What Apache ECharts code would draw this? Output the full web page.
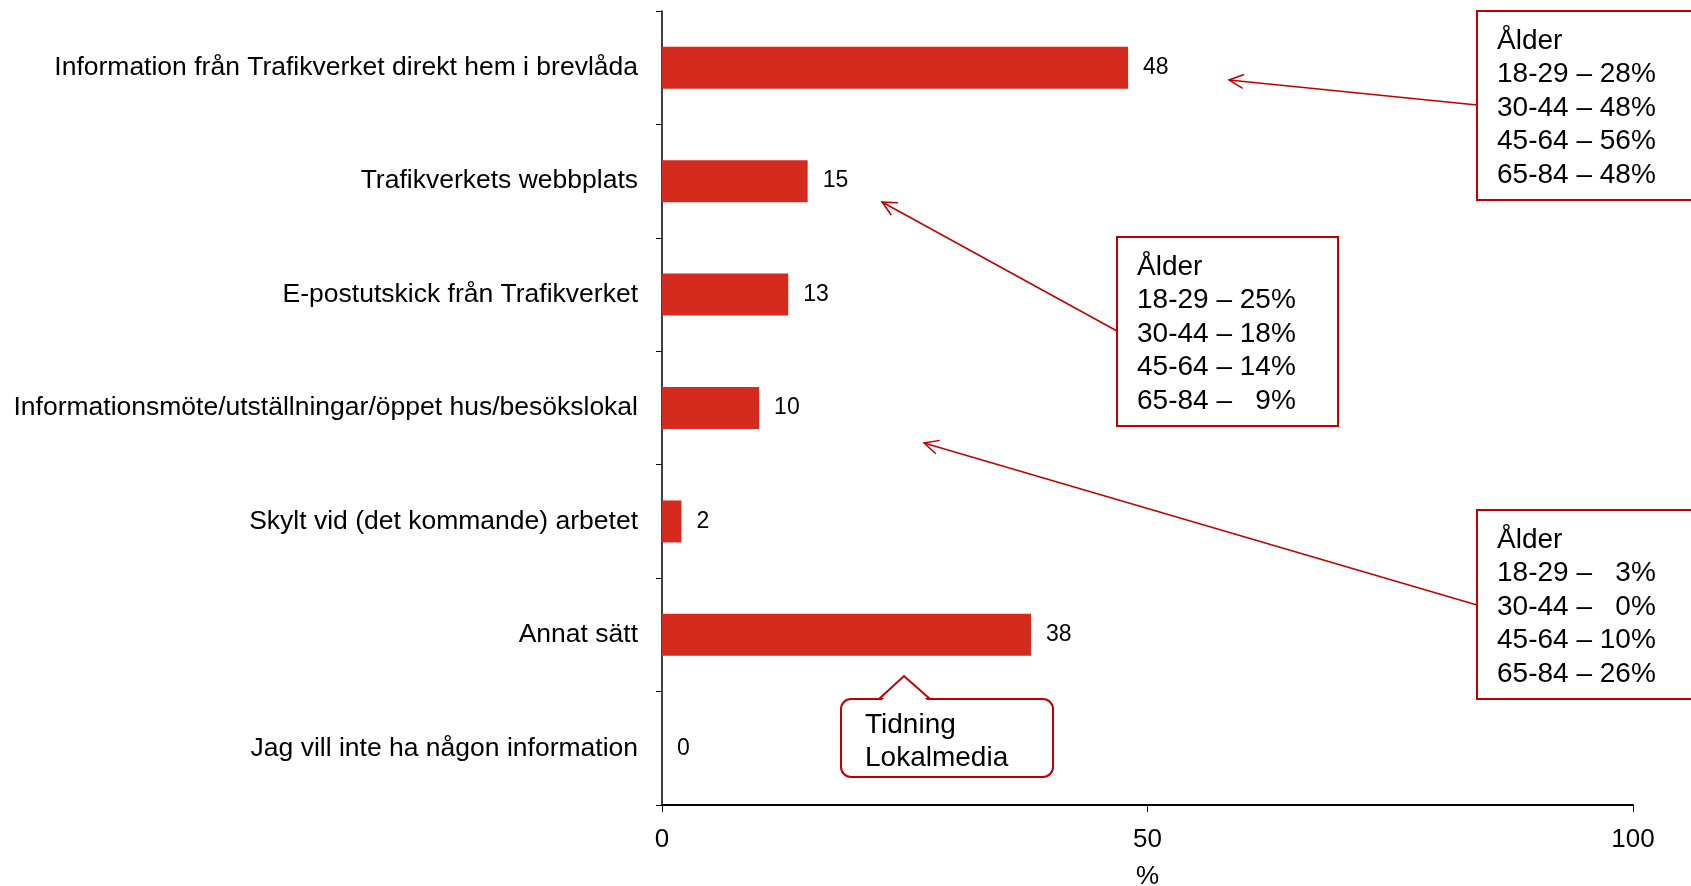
<!DOCTYPE html>
<html>
<head>
<meta charset="utf-8">
<title>Informationskanaler</title>
<script src="https://cdn.jsdelivr.net/npm/echarts@6/dist/echarts.min.js"></script>
<style>
html, body { margin: 0; padding: 0; background: #fff; }
#main { width: 1691px; height: 886px; }
</style>
</head>
<body>
<div id="main"></div>
<script>
// kategorier och värden (%)
var categories = [
    'Information från Trafikverket direkt hem i brevlåda',
    'Trafikverkets webbplats',
    'E-postutskick från Trafikverket',
    'Informationsmöte/utställningar/öppet hus/besökslokal',
    'Skylt vid (det kommande) arbetet',
    'Annat sätt',
    'Jag vill inte ha någon information'
];
var values = [48, 15, 13, 10, 2, 38, 0];
var xTicks = [0, 50, 100];

// ålderstexter i rutorna
var box1Lines = ['Ålder', '18-29 – 28%', '30-44 – 48%', '45-64 – 56%', '65-84 – 48%'];
var box2Lines = ['Ålder', '18-29 – 25%', '30-44 – 18%', '45-64 – 14%', '65-84 –   9%'];
var box3Lines = ['Ålder', '18-29 –   3%', '30-44 –   0%', '45-64 – 10%', '65-84 – 26%'];
var calloutLines = ['Tidning', 'Lokalmedia'];

var RED = '#C00000';
var FONT = '"Liberation Sans", Arial, sans-serif';

// pil: linje + öppen pilspets
function arrow(x1, y1, x2, y2) {
    var a = Math.atan2(y1 - y2, x1 - x2);
    var len = 16, spread = 0.45;
    return [
        { type: 'line', shape: { x1: x1, y1: y1, x2: x2, y2: y2 }, style: { stroke: RED, lineWidth: 1.5 } },
        { type: 'polyline', shape: { points: [
            [x2 + len * Math.cos(a + spread), y2 + len * Math.sin(a + spread)],
            [x2, y2],
            [x2 + len * Math.cos(a - spread), y2 + len * Math.sin(a - spread)]
        ] }, style: { stroke: RED, lineWidth: 1.5, fill: null } }
    ];
}

function box(x, y, w, h, tx, ty, lines) {
    return [
        { type: 'rect', shape: { x: x, y: y, width: w, height: h }, style: { fill: '#fff', stroke: RED, lineWidth: 2 } },
        { type: 'text', x: tx, y: ty, style: {
            text: lines.join('\n'), font: '28px ' + FONT, fill: '#000', lineHeight: 33.6
        } }
    ];
}

var myChart = echarts.init(document.getElementById('main'));

var graphics = []
    .concat(arrow(1477, 105, 1229, 80))
    .concat(arrow(1117, 331, 882, 202))
    .concat(arrow(1477, 605, 924, 443))
    .concat(box(1477, 11, 260, 189, 1497, 24, box1Lines))
    .concat(box(1117, 237, 221, 189, 1137, 250, box2Lines))
    .concat(box(1477, 510, 260, 189, 1497, 523, box3Lines))
    .concat([
        { type: 'rect', shape: { x: 841, y: 699, width: 212, height: 78, r: 10 }, style: { fill: '#fff', stroke: RED, lineWidth: 2 } },
        { type: 'polygon', shape: { points: [[880, 702], [904, 678], [929, 702]] }, style: { fill: '#fff' } },
        { type: 'polyline', shape: { points: [[879, 699], [904, 676], [930, 699]] }, style: { stroke: RED, lineWidth: 2, fill: null } },
        { type: 'text', x: 865, y: 709, style: { text: calloutLines.join('\n'), font: '28px ' + FONT, fill: '#000', lineHeight: 33 } }
    ]);

var option = {
    animation: false,
    textStyle: { fontFamily: FONT },
    grid: { left: 662, right: 58, top: 11, bottom: 81, containLabel: false, outerBoundsMode: 'none' },
    xAxis: {
        type: 'value',
        min: xTicks[0],
        max: xTicks[xTicks.length - 1],
        interval: xTicks[1] - xTicks[0],
        name: '%',
        nameLocation: 'middle',
        nameGap: 59,
        nameTextStyle: { fontSize: 26, color: '#000' },
        splitLine: { show: false },
        axisLine: { show: true, lineStyle: { color: '#000', width: 2 } },
        axisTick: { show: true, length: 7, lineStyle: { color: '#000', width: 1 } },
        axisLabel: { fontSize: 26, color: '#000', margin: 22 }
    },
    yAxis: {
        type: 'category',
        inverse: true,
        data: categories,
        axisLine: { show: true, lineStyle: { color: '#000', width: 1.5 } },
        axisTick: { show: true, length: 6, interval: 0, lineStyle: { color: '#000' } },
        axisLabel: { fontSize: 26.5, color: '#000', margin: 24, interval: 0 }
    },
    series: [{
        type: 'bar',
        data: values,
        barWidth: 42,
        itemStyle: { color: '#D52B1E' },
        label: {
            show: true,
            position: 'right',
            distance: 15,
            fontSize: 23,
            color: '#000'
        }
    }],
    graphic: graphics
};

myChart.setOption(option);
</script>
</body>
</html>
